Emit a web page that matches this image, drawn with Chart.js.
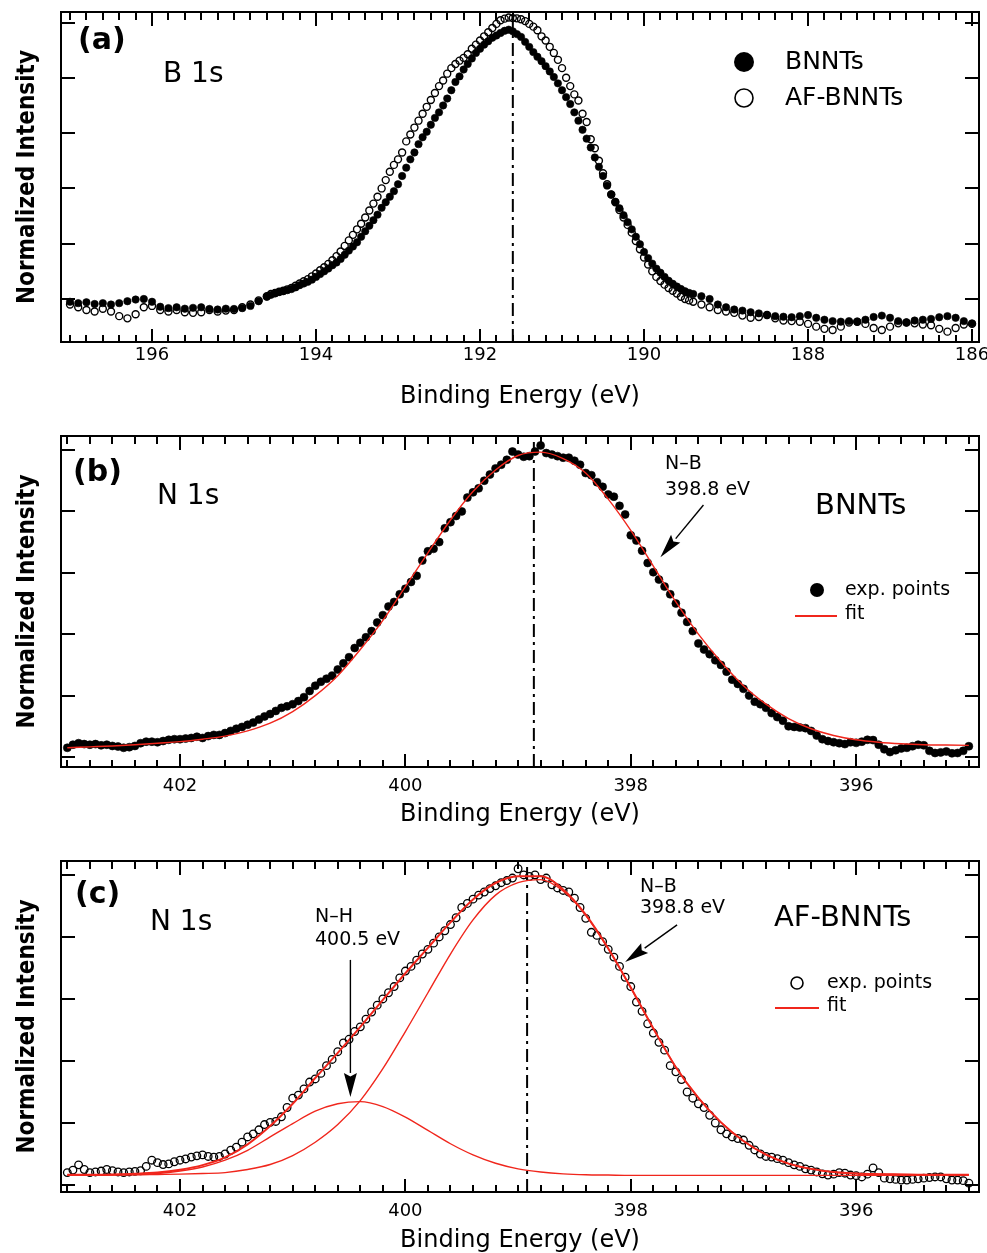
<!DOCTYPE html>
<html><head><meta charset="utf-8">
<script src="https://cdn.jsdelivr.net/npm/chart.js@4.4.1/dist/chart.umd.min.js"></script>
<style>
html,body{margin:0;padding:0;background:#fff;}
#wrap{position:relative;width:987px;height:1253px;overflow:hidden;background:#fff;}
canvas{position:absolute;left:0;}
</style></head><body>
<div id="wrap">
<canvas id="cA" width="987" height="420" style="top:0px"></canvas>
<canvas id="cB" width="987" height="420" style="top:420px"></canvas>
<canvas id="cC" width="987" height="413" style="top:840px"></canvas>
</div>
<script>
// ---------------- DATA ----------------
// Panel (a): B 1s binding energies (eV)
const energyB1s = [
197.0,196.9,196.8,196.7,196.6,196.5,196.4,196.3,196.2,196.1,196.0,195.9,195.8,195.7,195.6,195.5,195.4,195.3,195.2,195.1,195.0,194.9,194.8,194.7,194.6,
194.55,194.50,194.45,194.40,194.35,194.30,194.25,194.20,194.15,194.10,
194.05,194.00,193.95,193.90,193.85,193.80,193.75,193.70,193.65,193.60,
193.55,193.50,193.45,193.40,193.35,193.30,193.25,193.20,193.15,193.10,
193.05,193.00,192.95,192.90,192.85,192.80,192.75,192.70,192.65,192.60,
192.55,192.50,192.45,192.40,192.35,192.30,192.25,192.20,192.15,192.10,
192.05,192.00,191.95,191.90,191.85,191.80,191.75,191.70,191.65,191.60,
191.55,191.50,191.45,191.40,191.35,191.30,191.25,191.20,191.15,191.10,
191.05,191.00,190.95,190.90,190.85,190.80,190.75,190.70,190.65,190.60,
190.55,190.50,190.45,190.40,190.35,190.30,190.25,190.20,190.15,190.10,
190.05,190.00,189.95,189.90,189.85,189.80,189.75,189.70,189.65,189.60,
189.55,189.50,189.45,
189.4,189.3,189.2,189.1,189.0,188.9,188.8,188.7,188.6,188.5,
188.4,188.3,188.2,188.1,188.0,187.9,187.8,187.7,187.6,187.5,
187.4,187.3,187.2,187.1,187.0,186.9,186.8,186.7,186.6,186.5,
186.4,186.3,186.2,186.1,186.0
];
const intensityBNNTsB1s = [
-0.010,-0.015,-0.012,-0.018,-0.015,-0.020,-0.015,-0.008,-0.002,0.000,-0.010,-0.028,-0.033,-0.030,-0.035,-0.032,-0.030,-0.036,-0.038,-0.035,-0.036,-0.033,-0.025,-0.008,0.008,
0.015,0.020,0.025,0.028,0.032,0.036,0.042,0.050,0.056,0.062,
0.070,0.080,0.090,0.100,0.110,0.122,0.132,0.145,0.160,0.175,
0.190,0.205,0.225,0.245,0.265,0.285,0.305,0.330,0.350,0.370,
0.390,0.415,0.445,0.475,0.505,0.530,0.560,0.585,0.605,0.630,
0.655,0.675,0.700,0.725,0.755,0.785,0.805,0.830,0.850,0.870,
0.890,0.905,0.920,0.932,0.945,0.953,0.962,0.970,0.974,0.968,
0.958,0.948,0.930,0.912,0.893,0.876,0.860,0.842,0.823,0.803,
0.780,0.755,0.730,0.705,0.675,0.645,0.612,0.580,0.548,0.512,
0.478,0.445,0.410,0.378,0.352,0.328,0.303,0.278,0.252,0.225,
0.198,0.170,0.148,0.128,0.110,0.095,0.080,0.066,0.055,0.045,
0.036,0.028,0.022,
0.018,0.010,0.000,-0.020,-0.030,-0.038,-0.042,-0.048,-0.052,-0.058,
-0.062,-0.064,-0.066,-0.062,-0.058,-0.068,-0.075,-0.080,-0.082,-0.080,
-0.082,-0.075,-0.065,-0.060,-0.068,-0.080,-0.085,-0.078,-0.075,-0.072,
-0.066,-0.062,-0.068,-0.080,-0.088
];
const intensityAFB1s = [
-0.020,-0.030,-0.040,-0.045,-0.035,-0.045,-0.062,-0.070,-0.055,-0.030,-0.025,-0.040,-0.045,-0.040,-0.048,-0.050,-0.048,-0.040,-0.045,-0.042,-0.040,-0.030,-0.020,-0.005,0.010,
0.018,0.022,0.026,0.030,0.035,0.040,0.048,0.056,0.064,0.072,
0.082,0.092,0.104,0.115,0.127,0.140,0.155,0.172,0.192,0.212,
0.232,0.252,0.272,0.295,0.320,0.345,0.370,0.400,0.430,0.460,
0.485,0.505,0.530,0.570,0.595,0.620,0.645,0.670,0.695,0.720,
0.745,0.770,0.790,0.815,0.835,0.850,0.862,0.872,0.885,0.905,
0.920,0.935,0.950,0.965,0.980,0.995,1.008,1.014,1.018,1.016,
1.015,1.012,1.005,0.995,0.985,0.972,0.950,0.935,0.912,0.890,
0.865,0.835,0.800,0.770,0.740,0.718,0.670,0.640,0.578,0.545,
0.500,0.455,0.415,0.378,0.350,0.322,0.295,0.268,0.240,0.210,
0.180,0.150,0.125,0.100,0.080,0.065,0.052,0.040,0.030,0.020,
0.008,0.000,-0.005,
-0.010,-0.020,-0.030,-0.040,-0.045,-0.050,-0.060,-0.068,-0.065,-0.058,
-0.070,-0.078,-0.080,-0.082,-0.090,-0.100,-0.108,-0.112,-0.100,-0.085,
-0.082,-0.090,-0.105,-0.112,-0.100,-0.088,-0.085,-0.088,-0.092,-0.095,
-0.108,-0.118,-0.105,-0.092,-0.090
];

// Panels (b),(c): N 1s binding energies (eV)
const energyN1s = [
403.00,402.95,402.90,402.85,402.80,402.75,402.70,402.65,402.60,402.55,402.50,402.45,402.40,402.35,402.30,402.25,402.20,402.15,402.10,402.05,
402.00,401.95,401.90,401.85,401.80,401.75,401.70,401.65,401.60,401.55,401.50,401.45,401.40,401.35,401.30,401.25,401.20,401.15,401.10,401.05,
401.00,400.95,400.90,400.85,400.80,400.75,400.70,400.65,400.60,400.55,400.50,400.45,400.40,400.35,400.30,400.25,400.20,400.15,400.10,400.05,
400.00,399.95,399.90,399.85,399.80,399.75,399.70,399.65,399.60,399.55,399.50,399.45,399.40,399.35,399.30,399.25,399.20,399.15,399.10,399.05,
399.00,398.95,398.90,398.85,398.80,398.75,398.70,398.65,398.60,398.55,398.50,398.45,398.40,398.35,398.30,398.25,398.20,398.15,398.10,398.05,
398.00,397.95,397.90,397.85,397.80,397.75,397.70,397.65,397.60,397.55,397.50,397.45,397.40,397.35,397.30,397.25,397.20,397.15,397.10,397.05,
397.00,396.95,396.90,396.85,396.80,396.75,396.70,396.65,396.60,396.55,396.50,396.45,396.40,396.35,396.30,396.25,396.20,396.15,396.10,396.05,
396.00,395.95,395.90,395.85,395.80,395.75,395.70,395.65,395.60,395.55,395.50,395.45,395.40,395.35,395.30,395.25,395.20,395.15,395.10,395.05,
395.00
];
const expBNNTsN1s = [
0.030,0.040,0.045,0.042,0.040,0.042,0.038,0.040,0.036,0.034,0.030,0.032,0.036,0.045,0.050,0.050,0.048,0.052,0.056,0.058,
0.058,0.060,0.062,0.066,0.062,0.068,0.072,0.072,0.078,0.085,0.092,0.098,0.105,0.112,0.122,0.132,0.140,0.150,0.160,0.165,
0.172,0.182,0.195,0.215,0.232,0.245,0.255,0.265,0.285,0.305,0.325,0.355,0.372,0.390,0.410,0.438,0.462,0.490,0.505,0.530,
0.548,0.570,0.590,0.640,0.670,0.678,0.700,0.745,0.765,0.785,0.800,0.845,0.862,0.875,0.900,0.920,0.940,0.952,0.968,0.995,
0.985,0.978,0.980,0.995,1.015,0.990,0.985,0.980,0.975,0.975,0.965,0.952,0.925,0.918,0.895,0.880,0.855,0.848,0.818,0.790,
0.722,0.705,0.672,0.632,0.602,0.578,0.555,0.530,0.500,0.470,0.440,0.410,0.370,0.350,0.335,0.315,0.300,0.278,0.252,0.238,
0.222,0.200,0.180,0.172,0.160,0.143,0.130,0.118,0.100,0.098,0.096,0.094,0.085,0.070,0.058,0.052,0.048,0.045,0.042,0.048,
0.046,0.050,0.056,0.055,0.040,0.025,0.016,0.022,0.028,0.030,0.035,0.040,0.038,0.020,0.013,0.015,0.018,0.012,0.013,0.020,
0.035
];
const expAFN1s = [
0.040,0.048,0.065,0.050,0.040,0.042,0.045,0.050,0.046,0.042,0.040,0.042,0.044,0.046,0.060,0.080,0.072,0.066,0.068,0.075,
0.080,0.084,0.090,0.094,0.097,0.092,0.090,0.092,0.100,0.112,0.122,0.138,0.155,0.165,0.178,0.195,0.202,0.205,0.220,0.250,
0.280,0.290,0.310,0.332,0.342,0.360,0.385,0.405,0.430,0.458,0.470,0.495,0.510,0.535,0.558,0.580,0.600,0.620,0.640,0.668,
0.690,0.705,0.725,0.745,0.760,0.780,0.800,0.820,0.840,0.862,0.895,0.908,0.922,0.935,0.945,0.956,0.965,0.975,0.982,0.990,
1.020,1.000,0.995,1.000,0.985,0.990,0.968,0.958,0.950,0.945,0.925,0.895,0.860,0.815,0.805,0.785,0.760,0.735,0.705,0.670,
0.640,0.590,0.560,0.520,0.490,0.460,0.435,0.385,0.365,0.340,0.300,0.280,0.262,0.250,0.225,0.200,0.178,0.165,0.155,0.150,
0.145,0.128,0.113,0.100,0.092,0.090,0.085,0.080,0.072,0.065,0.060,0.052,0.048,0.042,0.036,0.032,0.035,0.040,0.038,0.032,
0.030,0.026,0.035,0.055,0.040,0.022,0.020,0.018,0.016,0.016,0.018,0.020,0.022,0.024,0.026,0.026,0.020,0.016,0.016,0.014,
0.006
];

// Fit curves (N 1s)
const energyFit = [
403.0,402.8,402.6,402.4,402.2,402.0,401.8,401.6,401.4,401.2,
401.0,400.8,400.6,400.4,400.2,400.0,399.8,399.6,399.4,399.2,
399.0,398.8,398.6,398.4,398.2,398.0,397.8,397.6,397.4,397.2,
397.0,396.8,396.6,396.4,396.2,396.0,395.8,395.6,395.4,395.2,
395.0
];
const fitBNNTs = [
0.030,0.033,0.036,0.040,0.045,0.050,0.058,0.068,0.085,0.110,
0.148,0.200,0.265,0.350,0.445,0.555,0.665,0.772,0.865,0.935,
0.982,0.993,0.972,0.925,0.840,0.738,0.622,0.505,0.400,0.310,
0.232,0.172,0.125,0.092,0.070,0.056,0.048,0.043,0.040,0.039,
0.038
];
const fitAFTotal = [
0.033,0.033,0.034,0.036,0.040,0.049,0.064,0.089,0.131,0.190,
0.262,0.345,0.426,0.510,0.597,0.683,0.765,0.847,0.921,0.974,
0.996,0.996,0.953,0.872,0.763,0.637,0.505,0.380,0.281,0.202,
0.142,0.098,0.069,0.052,0.042,0.037,0.035,0.034,0.033,0.033,
0.033
];
const fitAFNH = [
0.031,0.031,0.032,0.034,0.037,0.045,0.058,0.080,0.112,0.155,
0.198,0.238,0.262,0.269,0.253,0.219,0.176,0.133,0.097,0.070,
0.052,0.042,0.036,0.033,0.032,0.031,0.031,0.031,0.031,0.031,
0.031,0.031,0.031,0.031,0.031,0.031,0.031,0.031,0.031,0.031,
0.031
];
const fitAFNB = [
0.032,0.032,0.033,0.033,0.034,0.035,0.037,0.040,0.050,0.066,
0.095,0.138,0.195,0.272,0.375,0.495,0.620,0.745,0.855,0.935,
0.975,0.985,0.948,0.870,0.762,0.636,0.505,0.380,0.281,0.202,
0.142,0.098,0.069,0.052,0.042,0.037,0.035,0.034,0.033,0.033,
0.033
];

// Peak reference lines (eV)
const peakLines = [191.6, 398.86, 398.92];
// Axis ranges
const xRangeA = [185.915, 197.11];
const xRangeN = [394.91, 403.056];
const yRangeA = [-0.1555, 1.038];
const yRangeB = [-0.0326, 1.0456];
const yRangeC = [-0.0226, 1.045];

// ---------------- RENDER ----------------
const FONT = '"DejaVu Sans", Verdana, sans-serif';
const RED = '#f0261c';

function pts(xs, ys) {
  const n = Math.min(xs.length, ys.length);
  const out = [];
  for (let i = 0; i < n; i++) out.push({x: xs[i], y: ys[i]});
  return out;
}
function isMajor(v) { return Math.abs(v / 2 - Math.round(v / 2)) < 1e-6; }

const framePlugin = {
  id: 'frame',
  afterDraw(chart) {
    const {ctx, chartArea: a, scales: {x, y}} = chart;
    ctx.save();
    ctx.strokeStyle = '#000';
    ctx.lineWidth = 2;
    ctx.beginPath();
    x.ticks.forEach(t => {
      const px = Math.round(x.getPixelForValue(t.value));
      const maj = isMajor(t.value);
      ctx.moveTo(px, a.bottom); ctx.lineTo(px, a.bottom - (maj ? 13 : 7));
      ctx.moveTo(px, a.top); ctx.lineTo(px, a.top + (maj ? 14 : 8));
    });
    y.ticks.forEach(t => {
      const py = Math.round(y.getPixelForValue(t.value));
      ctx.moveTo(a.left, py); ctx.lineTo(a.left + 14, py);
      ctx.moveTo(a.right, py); ctx.lineTo(a.right - 14, py);
    });
    ctx.stroke();
    ctx.strokeRect(a.left, a.top, a.right - a.left, a.bottom - a.top);
    ctx.restore();
  }
};

function drawArrow(ctx, x0, y0, x1, y1, len, hw) {
  const ang = Math.atan2(y1 - y0, x1 - x0);
  const bx = x1 - len * Math.cos(ang), by = y1 - len * Math.sin(ang);
  ctx.beginPath(); ctx.moveTo(x0, y0); ctx.lineTo(bx, by); ctx.stroke();
  const px = -Math.sin(ang) * hw, py = Math.cos(ang) * hw;
  ctx.beginPath(); ctx.moveTo(x1, y1); ctx.lineTo(bx + px, by + py);
  ctx.lineTo(bx + len * 0.15 * Math.cos(ang), by + len * 0.15 * Math.sin(ang));
  ctx.lineTo(bx - px, by - py); ctx.closePath(); ctx.fill();
}

const decoPlugin = {
  id: 'deco',
  afterDraw(chart, args, opts) {
    const {ctx, scales: {x, y}} = chart;
    ctx.save();
    ctx.fillStyle = '#000';
    ctx.textAlign = 'left';
    ctx.textBaseline = 'middle';
    (opts.texts || []).forEach(t => { ctx.font = t.font; ctx.fillText(t.s, t.x, t.y); });
    (opts.marks || []).forEach(m => {
      ctx.beginPath();
      if (m.type === 'line') {
        ctx.strokeStyle = m.color; ctx.lineWidth = 2;
        ctx.moveTo(m.x0, m.y); ctx.lineTo(m.x1, m.y); ctx.stroke();
      } else {
        ctx.arc(m.x, m.y, m.r, 0, Math.PI * 2);
        if (m.type === 'dot') { ctx.fillStyle = '#000'; ctx.fill(); }
        else { ctx.strokeStyle = '#000'; ctx.lineWidth = 1.6; ctx.stroke(); }
      }
    });
    ctx.strokeStyle = '#000'; ctx.fillStyle = '#000'; ctx.lineWidth = 1.4;
    (opts.arrows || []).forEach(a => {
      drawArrow(ctx, x.getPixelForValue(a.from[0]), y.getPixelForValue(a.from[1]),
                x.getPixelForValue(a.to[0]), y.getPixelForValue(a.to[1]), a.len, a.hw);
    });
    ctx.restore();
  }
};

function makeChart(id, cfg) {
  return new Chart(document.getElementById(id), {
    type: 'scatter',
    data: {datasets: cfg.datasets},
    plugins: [framePlugin, decoPlugin],
    options: {
      responsive: false,
      animation: false,
      devicePixelRatio: 1,
      layout: {padding: {top: cfg.padTop, right: 8, bottom: cfg.padBottom, left: 0}},
      plugins: {legend: {display: false}, tooltip: {enabled: false}, deco: cfg.deco},
      scales: {
        x: {
          type: 'linear', reverse: true, bounds: 'ticks',
          min: cfg.xRange[0], max: cfg.xRange[1],
          grid: {display: false, drawTicks: false}, border: {display: false},
          afterBuildTicks: s => { s.ticks = s.ticks.filter(t => Math.abs(t.value * 5 - Math.round(t.value * 5)) < 1e-6); },
          ticks: {stepSize: 0.2, includeBounds: false, autoSkip: false, maxRotation: 0, minRotation: 0,
                  padding: cfg.tickPad, color: '#000', font: {family: FONT, size: 18},
                  callback: v => isMajor(v) ? String(Math.round(v)) : ''},
          title: {display: true, text: 'Binding Energy (eV)', color: '#000',
                  font: {family: FONT, size: 24, lineHeight: 1}, padding: 0},
          afterFit: s => { s.height = cfg.xH; s.paddingLeft = 0; s.paddingRight = 0; }
        },
        y: {
          type: 'linear', bounds: 'ticks', min: cfg.yRange[0], max: cfg.yRange[1],
          grid: {display: false, drawTicks: false}, border: {display: false},
          afterBuildTicks: s => { s.ticks = s.ticks.filter(t => Math.abs(t.value * 5 - Math.round(t.value * 5)) < 1e-6); },
          ticks: {display: false, stepSize: 0.2, includeBounds: false},
          title: {display: true, text: 'Normalized Intensity', color: '#000',
                  font: {family: '"DejaVu Sans Condensed", "Liberation Sans", Arial, sans-serif', size: 24, weight: 'bold', lineHeight: 1.2},
                  padding: {top: 13, bottom: 0}},
          afterFit: s => { s.width = 61; s.paddingTop = 0; s.paddingBottom = 0; }
        }
      }
    }
  });
}

function vline(e, yr) {
  return {data: [{x: e, y: yr[0]}, {x: e, y: yr[1]}], showLine: true, pointRadius: 0,
          borderColor: '#000', borderWidth: 2, borderDash: [13, 5, 3, 5]};
}
function fitLine(xs, ys, w) {
  return {data: pts(xs, ys), showLine: true, pointRadius: 0, borderColor: RED, borderWidth: w,
          cubicInterpolationMode: 'monotone'};
}

// Panel (a)
makeChart('cA', {
  xRange: xRangeA, yRange: yRangeA, padTop: 12, padBottom: 11, xH: 67, tickPad: 3,
  datasets: [
    {data: pts(energyB1s, intensityBNNTsB1s), pointRadius: 3.7, backgroundColor: '#000', borderColor: '#000', borderWidth: 0.6},
    {data: pts(energyB1s, intensityAFB1s), pointRadius: 3.5, backgroundColor: 'rgba(0,0,0,0)', borderColor: '#000', borderWidth: 1.4},
    vline(peakLines[0], yRangeA)
  ],
  deco: {
    texts: [
      {s: '(a)', x: 78, y: 41, font: 'bold 30px ' + FONT},
      {s: 'B 1s', x: 163, y: 75, font: '28px ' + FONT},
      {s: 'BNNTs', x: 785, y: 62, font: '25px ' + FONT},
      {s: 'AF-BNNTs', x: 785, y: 98, font: '25px ' + FONT}
    ],
    marks: [
      {type: 'dot', x: 744, y: 62, r: 10},
      {type: 'ring', x: 744, y: 98, r: 9}
    ]
  }
});

// Panel (b)
makeChart('cB', {
  xRange: xRangeN, yRange: yRangeB, padTop: 16, padBottom: 13, xH: 60, tickPad: 9,
  datasets: [
    fitLine(energyFit, fitBNNTs, 1.4),
    {data: pts(energyN1s, expBNNTsN1s), pointRadius: 4, backgroundColor: '#000', borderColor: '#000', borderWidth: 0.6},
    vline(peakLines[1], yRangeB)
  ],
  deco: {
    texts: [
      {s: '(b)', x: 73, y: 53, font: 'bold 30px ' + FONT},
      {s: 'N 1s', x: 157, y: 77, font: '28px ' + FONT},
      {s: 'N\u2013B', x: 665, y: 44, font: '19px ' + FONT},
      {s: '398.8 eV', x: 665, y: 70, font: '19px ' + FONT},
      {s: 'BNNTs', x: 815, y: 86, font: '29px ' + FONT},
      {s: 'exp. points', x: 845, y: 170, font: '19px ' + FONT},
      {s: 'fit', x: 845, y: 194, font: '19px ' + FONT}
    ],
    marks: [
      {type: 'dot', x: 817, y: 170, r: 7},
      {type: 'line', x0: 795, x1: 837, y: 196, color: RED}
    ],
    arrows: [{from: [397.355, 0.821], to: [397.737, 0.651], len: 24, hw: 6}]
  }
});

// Panel (c)
makeChart('cC', {
  xRange: xRangeN, yRange: yRangeC, padTop: 21, padBottom: 0, xH: 61, tickPad: 9,
  datasets: [
    fitLine(energyFit, fitAFTotal, 2),
    fitLine(energyFit, fitAFNH, 1.4),
    fitLine(energyFit, fitAFNB, 1.4),
    {data: pts(energyN1s, expAFN1s), pointRadius: 3.8, backgroundColor: 'rgba(0,0,0,0)', borderColor: '#000', borderWidth: 1.3},
    vline(peakLines[2], yRangeC)
  ],
  deco: {
    texts: [
      {s: '(c)', x: 75, y: 55, font: 'bold 30px ' + FONT},
      {s: 'N 1s', x: 150, y: 83, font: '28px ' + FONT},
      {s: 'N\u2013H', x: 315, y: 77, font: '19px ' + FONT},
      {s: '400.5 eV', x: 315, y: 100, font: '19px ' + FONT},
      {s: 'N\u2013B', x: 640, y: 47, font: '19px ' + FONT},
      {s: '398.8 eV', x: 640, y: 68, font: '19px ' + FONT},
      {s: 'AF-BNNTs', x: 774, y: 78, font: '29px ' + FONT},
      {s: 'exp. points', x: 827, y: 143, font: '19px ' + FONT},
      {s: 'fit', x: 827, y: 166, font: '19px ' + FONT}
    ],
    marks: [
      {type: 'ring', x: 797, y: 143, r: 6},
      {type: 'line', x0: 775, x1: 819, y: 168, color: RED}
    ],
    arrows: [
      {from: [397.589, 0.839], to: [398.05, 0.719], len: 24, hw: 6},
      {from: [400.488, 0.726], to: [400.488, 0.284], len: 24, hw: 6.5}
    ]
  }
});
</script>
</body></html>
